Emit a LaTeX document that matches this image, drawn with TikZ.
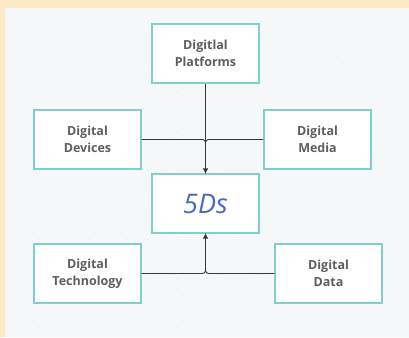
\documentclass[tikz,border=0pt]{standalone}
\usepackage{fontspec}
\setmainfont{Open Sans}
\usetikzlibrary{arrows.meta}
\definecolor{cream}{HTML}{FCEBC6}
\definecolor{panel}{HTML}{F6F7F9}
\definecolor{dotc}{HTML}{E4E6EA}
\definecolor{teal}{HTML}{7FD0CB}
\definecolor{txt}{HTML}{5E5E5E}
\definecolor{blu}{HTML}{4D66C2}
\definecolor{linec}{HTML}{3A3A3A}
\tikzset{
  box/.style={draw=teal, line width=1.3pt, fill=white, minimum width=107pt, minimum height=59pt,
    inner sep=0pt, align=center, font=\fontsize{12.5}{17.5}\selectfont\bfseries, text=txt},
  conn/.style={draw=linec, line width=0.9pt, rounded corners=3pt},
  arr/.style={conn, -{Triangle[length=5pt,width=5pt]}}
}
\begin{document}
\begin{tikzpicture}[x=1pt,y=-1pt]
\fill[cream] (0,0) rectangle (409,337);
\fill[panel] (5,8) rectangle (409,337);
\foreach \i in {0,...,40}{\foreach \j in {0,...,32}{
  \fill[dotc] (10+\i*9.8, 14+\j*9.8) circle (0.55pt);}}
\useasboundingbox (0,0) rectangle (409,337);
\node[box] (plat) at (205.5,53.5) {Digitlal\\Platforms};
\node[box] (dev) at (87.5,139.5) {Digital\\Devices};
\node[box] (med) at (317.5,139.5) {Digital\\Media};
\node[box, font=\fontsize{27}{30}\selectfont\itshape, text=blu] (fd) at (205.5,203.5) {5Ds};
\node[box] (tech) at (87.5,273.5) {Digital\\Technology};
\node[box] (data) at (328.5,273.5) {Digital\\Data};
\draw[conn] (dev.east) -| (fd.north);
\draw[conn] (med.west) -| (fd.north);
\draw[arr] (plat.south) -- (fd.north);
\draw[conn] (tech.east) -| (fd.south);
\draw[arr] (data.west) -| (fd.south);
\end{tikzpicture}
\end{document}
